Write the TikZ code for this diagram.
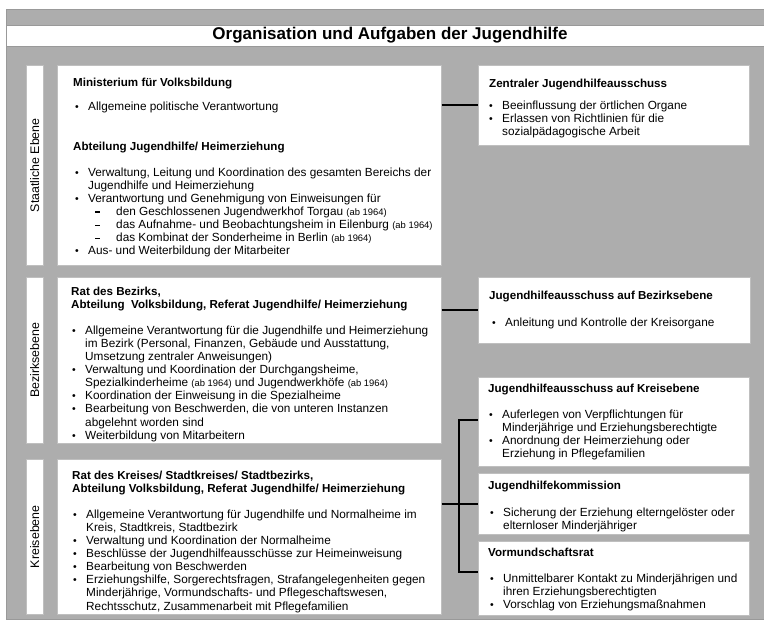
\documentclass[tikz,border=0pt]{standalone}
\usepackage{fontspec}
\setmainfont{Liberation Sans}
\definecolor{bggray}{HTML}{ADADAD}
\newcommand{\bul}{\makebox[13pt][l]{\fontsize{10.5}{12}\selectfont\textbullet}}
\newcommand{\ind}{\hspace*{13pt}}
\newcommand{\dsh}{\makebox[28pt][l]{\hspace*{7pt}\rule[2.8pt]{5pt}{1.4pt}}}
\newcommand{\abj}{{\fontsize{9.4}{10}\selectfont(ab 1964)}}

\begin{document}
\begin{tikzpicture}[x=1pt, y=-1pt,
  panel/.style={draw=black!25, fill=white, line width=0.5pt, anchor=north west, inner sep=0pt},
  head/.style={anchor=north west, inner sep=0pt, align=left, font=\bfseries\fontsize{11.6}{13}\selectfont},
  body/.style={anchor=north west, inner sep=0pt, align=left, font=\fontsize{11.8}{13.1}\selectfont},
  level/.style={rotate=90, inner sep=0pt, font=\fontsize{12.4}{13}\selectfont},
  link/.style={line width=2pt, black}]
\useasboundingbox (0,0) rectangle (764,621);
% background and title band
\fill[bggray, draw=black!40] (6,9) rectangle (770,619);
\node[draw=black!40, fill=white, anchor=north west, minimum width=764pt, minimum height=21pt, inner sep=0pt] (band) at (6,25) {};
\node[font=\bfseries\fontsize{17}{19}\selectfont] (title) at (390,35.5) {Organisation und Aufgaben der Jugendhilfe};
% panels: name/x/y/width/height
\foreach \n/\x/\y/\w/\h in {lab1/26/65/17/200, lab2/26/277/17/166, lab3/26/459/17/155,
    minist/57/65/384/200, bezirk/57/277/384/166, kreis/57/459/384/155,
    zjha/478/65/271/80, bjha/478/277/272/66, kjha/478/377/271/89,
    jhk/478/473/271/61, vrat/478/541/271/74}
  \node[panel, minimum width=\w pt, minimum height=\h pt] (\n) at (\x,\y) {};
% levels
\node[level] (lev1) at (lab1.center) {Staatliche Ebene};
\node[level] (lev2) at (lab2.center) {Bezirksebene};
\node[level] (lev3) at (lab3.center) {Kreisebene};
% Staatliche Ebene
\node[head] (ministhd) at (73,77) {\strut Ministerium für Volksbildung};
\node[body] (ministtx) at (75,101) {\strut\bul Allgemeine politische Verantwortung};
\node[head] (abtlhd) at (73,141) {\strut Abteilung Jugendhilfe/ Heimerziehung};
\node[body] (abtltx) at (75,167) {\strut\bul Verwaltung, Leitung und Koordination des gesamten Bereichs der\\
  \ind Jugendhilfe und Heimerziehung\\
  \bul Verantwortung und Genehmigung von Einweisungen für\\
  \ind\dsh den Geschlossenen Jugendwerkhof Torgau \abj\\
  \ind\dsh das Aufnahme- und Beobachtungsheim in Eilenburg \abj\\
  \ind\dsh das Kombinat der Sonderheime in Berlin \abj\\
  \bul Aus- und Weiterbildung der Mitarbeiter};
\node[head] (zjhahd) at (489,78) {\strut Zentraler Jugendhilfeausschuss};
\node[body] (zjhatx) at (489,100) {\strut\bul Beeinflussung der örtlichen Organe\\
  \bul Erlassen von Richtlinien für die\\
  \ind sozialpädagogische Arbeit};
% Bezirksebene
\node[head] (bezirkhd) at (71,286) {\strut Rat des Bezirks,\\ Abteilung\ \ Volksbildung, Referat Jugendhilfe/ Heimerziehung};
\node[body] (bezirktx) at (72,325) {\strut\bul Allgemeine Verantwortung für die Jugendhilfe und Heimerziehung\\
  \ind im Bezirk (Personal, Finanzen, Gebäude und Ausstattung,\\
  \ind Umsetzung zentraler Anweisungen)\\
  \bul Verwaltung und Koordination der Durchgangsheime,\\
  \ind Spezialkinderheime \abj{} und Jugendwerkhöfe \abj\\
  \bul Koordination der Einweisung in die Spezialheime\\
  \bul Bearbeitung von Beschwerden, die von unteren Instanzen\\
  \ind abgelehnt worden sind\\
  \bul Weiterbildung von Mitarbeitern};
\node[head] (bjhahd) at (489,290) {\strut Jugendhilfeausschuss auf Bezirksebene};
\node[body] (bjhatx) at (492,317) {\strut\bul Anleitung und Kontrolle der Kreisorgane};
% Kreisebene
\node[head] (kreishd) at (72,470) {\strut Rat des Kreises/ Stadtkreises/ Stadtbezirks,\\ Abteilung Volksbildung, Referat Jugendhilfe/ Heimerziehung};
\node[body] (kreistx) at (73,509) {\strut\bul Allgemeine Verantwortung für Jugendhilfe und Normalheime im\\
  \ind Kreis, Stadtkreis, Stadtbezirk\\
  \bul Verwaltung und Koordination der Normalheime\\
  \bul Beschlüsse der Jugendhilfeausschüsse zur Heimeinweisung\\
  \bul Bearbeitung von Beschwerden\\
  \bul Erziehungshilfe, Sorgerechtsfragen, Strafangelegenheiten gegen\\
  \ind Minderjährige, Vormundschafts- und Pflegeschaftswesen,\\
  \ind Rechtsschutz, Zusammenarbeit mit Pflegefamilien};
\node[head] (kjhahd) at (488,383) {\strut Jugendhilfeausschuss auf Kreisebene};
\node[body] (kjhatx) at (489,409) {\strut\bul Auferlegen von Verpflichtungen für\\
  \ind Minderjährige und Erziehungsberechtigte\\
  \bul Anordnung der Heimerziehung oder\\
  \ind Erziehung in Pflegefamilien};
\node[head] (jhkhd) at (488,480) {\strut Jugendhilfekommission};
\node[body] (jhktx) at (490,507) {\strut\bul Sicherung der Erziehung elterngelöster oder\\
  \ind elternloser Minderjähriger};
\node[head] (vrathd) at (488,547) {\strut Vormundschaftsrat};
\node[body] (vrattx) at (490,573) {\strut\bul Unmittelbarer Kontakt zu Minderjährigen und\\
  \ind ihren Erziehungsberechtigten\\
  \bul Vorschlag von Erziehungsmaßnahmen};
% connectors
\coordinate (bus) at (459,0);
\coordinate (vratin) at ([yshift=6pt]vrat.west);
\draw[link] (zjha.west -| minist.east) -- (zjha.west);
\draw[link] (bjha.west -| bezirk.east) -- (bjha.west);
\draw[link] ([yshift=2pt]kjha.west) -- ([yshift=2pt]kjha.west -| bus) -- (vratin -| bus) -- (vratin);
\draw[link] (jhk.west -| kreis.east) -- (jhk.west);
\end{tikzpicture}
\end{document}
